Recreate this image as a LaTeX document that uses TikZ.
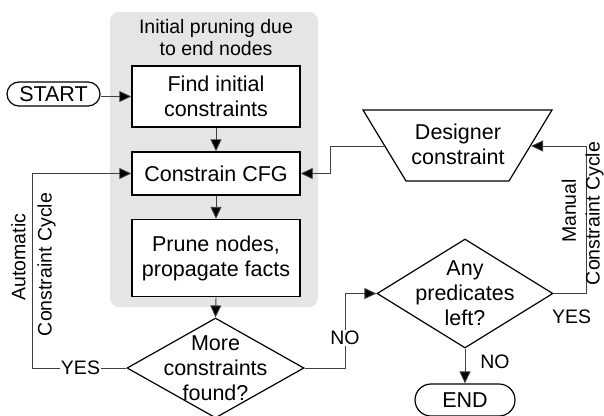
\documentclass[tikz,border=0pt]{standalone}
\usepackage{fontspec}
\setmainfont{Liberation Sans}
\usetikzlibrary{arrows.meta,shapes.geometric}
\tikzset{
  boxfont/.style={font=\fontsize{21.5}{25}\selectfont},
  lblfont/.style={font=\fontsize{19.5}{22}\selectfont},
  procbox/.style={draw=black, line width=1.4pt, fill=white, minimum width=168pt, inner sep=0pt, align=center, boxfont},
  termbox/.style={draw=black, line width=1.2pt, fill=white, inner sep=0pt, boxfont},
  decision/.style={diamond, draw=black, line width=1.2pt, fill=white, inner sep=0pt},
  conn/.style={draw=black!75, line width=0.9pt, -{Triangle[length=12pt,width=11pt,fill=black]}},
  lbl/.style={lblfont, inner sep=1pt, align=center},
}
\begin{document}
\begin{tikzpicture}[x=1pt,y=-1pt]
\useasboundingbox (0,0) rectangle (604,415);
% gray group
\fill[black!10, rounded corners=9pt] (110,12) rectangle (318,307);
\node[lbl, align=center] (title) at (216,38) {Initial pruning due\\to end nodes};
% nodes
\node[termbox, minimum width=93pt, minimum height=24pt, rounded corners=12pt] (start) at (53.5,94) {START};
\node[procbox, minimum height=61pt] (find) at (216,96.5) {Find initial\\constraints};
\node[procbox, minimum height=43pt] (cfg) at (216,173.5) {Constrain CFG};
\node[procbox, minimum height=77pt] (prune) at (216,258) {Prune nodes,\\propagate facts};
\node[decision, minimum width=177pt, minimum height=100pt] (more) at (215.5,368) {};
\node[align=center, boxfont, inner sep=0pt] (moretext) at (215.5,368) {More\\constraints\\found?};
\node[decision, minimum width=176pt, minimum height=109pt] (any) at (465,293.5) {};
\node[align=center, boxfont, inner sep=0pt] (anytext) at (465,293.5) {Any\\predicates\\left?};
\draw[black, line width=1.2pt, fill=white] (363,110) -- (552,110) -- (509,181) -- (406,181) -- cycle;
\node[align=center, boxfont, inner sep=0pt] (des) at (458,144) {Designer\\constraint};
\coordinate (desL) at (385,146);
\coordinate (desR) at (531,146);
\node[termbox, minimum width=100pt, minimum height=32pt, rounded corners=16pt] (end) at (465,400) {END};
% connectors
\draw[conn] (start.east |- find.west) -- (find.west);
\draw[conn] (find.south) -- (cfg.north);
\draw[conn] (cfg.south) -- (prune.north);
\draw[conn] (prune.south) -- (more.north);
\draw[conn] (more.west) -- ++(-94,0) |- (cfg.west);
\draw[conn] (more.east) -- ++(41,0) |- (any.west);
\draw[conn] (any.east) -- ++(33,0) |- (desR);
\draw[conn] (desL) -- ++(-55,0) |- (cfg.east);
\draw[conn] (any.south) -- (end.north);
% labels
\node[lbl, fill=white] (yesA) at (80.5,368) {YES};
\node[lbl, fill=white] (noA) at (345,338) {NO};
\node[lbl] (yesB) at (571.5,317) {YES};
\node[lbl] (noB) at (495,362) {NO};
\node[lbl, rotate=90] (autoA) at (18.5,257) {Automatic};
\node[lbl, rotate=90] (autoB) at (46.5,264.5) {Constraint Cycle};
\node[lbl, rotate=90] (manA) at (569,211) {Manual};
\node[lbl, rotate=90] (manB) at (594.5,213.5) {Constraint Cycle};
\end{tikzpicture}
\end{document}
